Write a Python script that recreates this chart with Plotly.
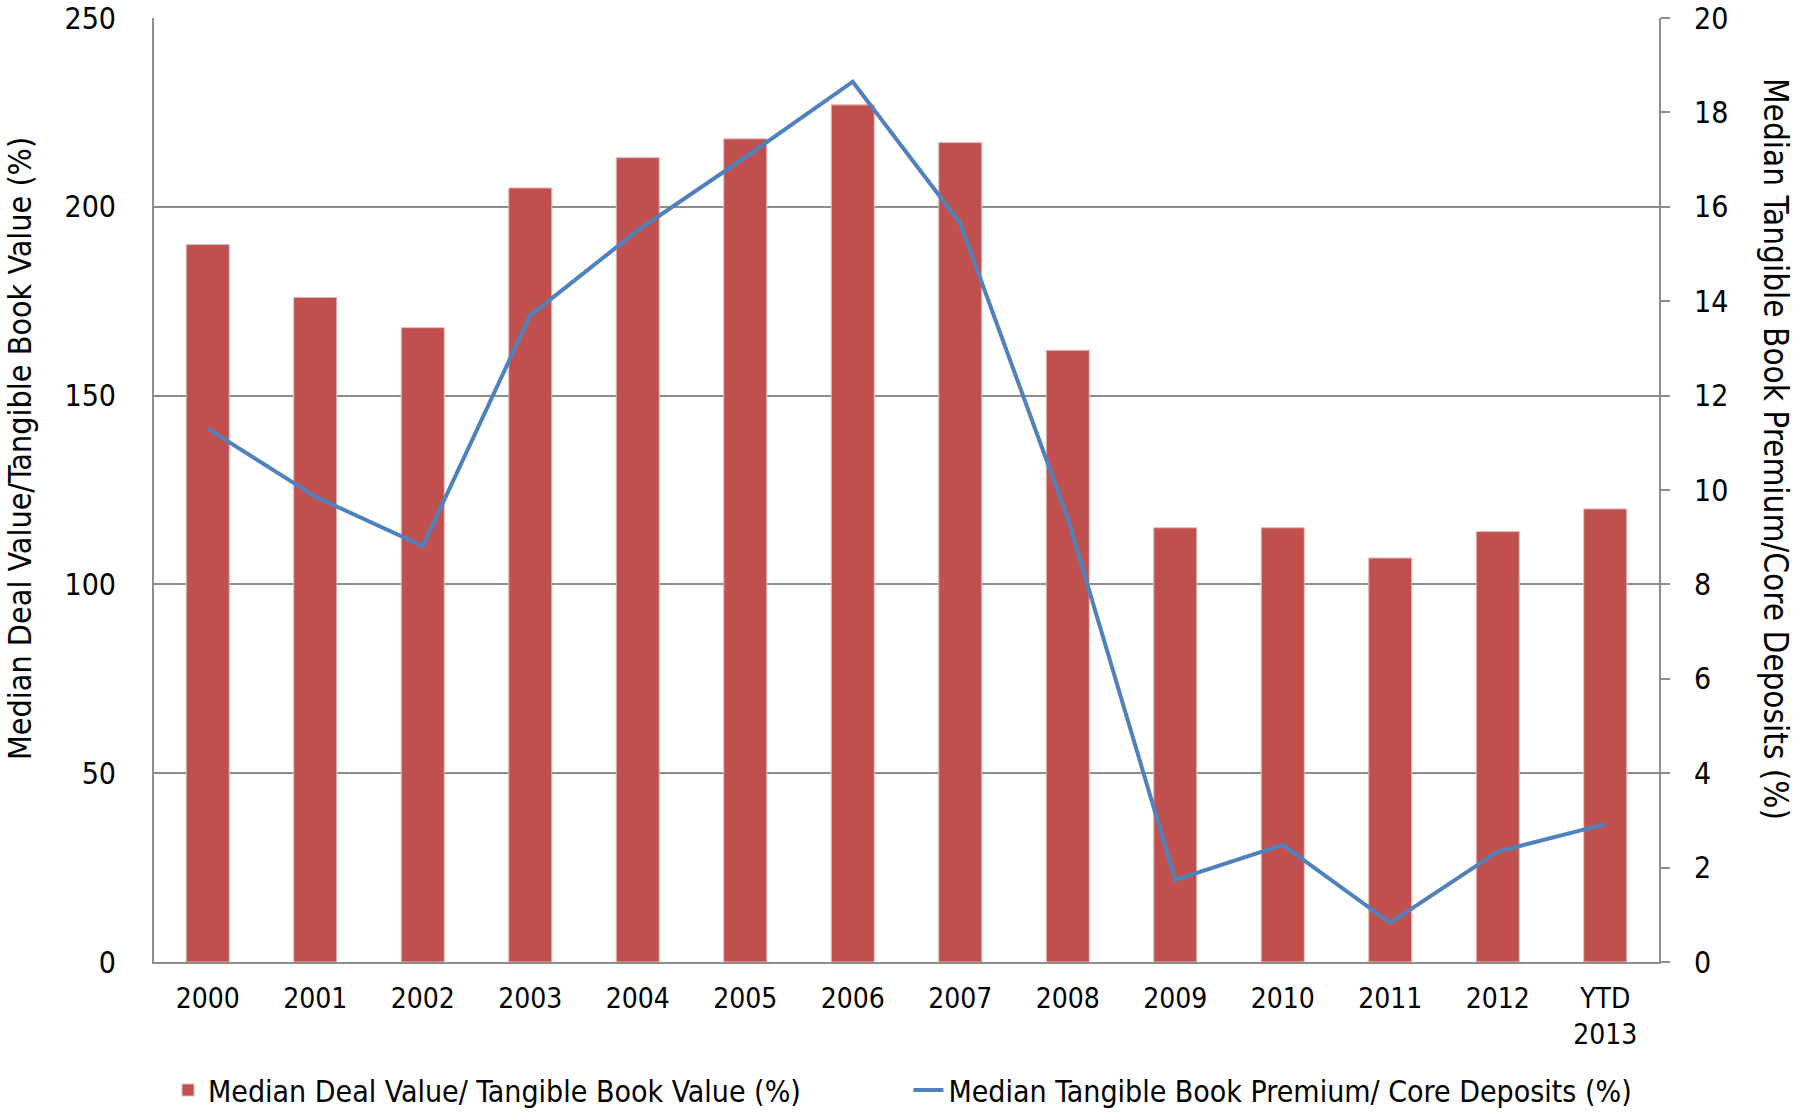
import plotly.graph_objects as go

categories = ["2000", "2001", "2002", "2003", "2004", "2005", "2006", "2007",
              "2008", "2009", "2010", "2011", "2012", "YTD<br>2013"]
deal_value_tbv = [190, 176, 168, 205, 213, 218, 227, 217, 162, 115, 115, 107, 114, 120]
tbv_premium_core = [11.3, 9.86, 8.81, 13.7, 15.5, 17.05, 18.65, 15.65, 9.4, 1.74, 2.48, 0.83, 2.34, 2.92]

bar_name = "Median Deal Value/ Tangible Book Value (%)"
line_name = "Median Tangible Book Premium/ Core Deposits (%)"
left_title = "Median Deal Value/Tangible Book Value (%)"
right_title = "Median Tangible Book Premium/Core Deposits (%)"

FONT = "Liberation Sans Narrow, Arial Narrow, DejaVu Sans Condensed, sans-serif"
GRID = "#8c8c8c"

fig = go.Figure()
fig.add_trace(go.Bar(
    x=categories, y=deal_value_tbv, name=bar_name, showlegend=True,
    marker=dict(color="#C0504D", line=dict(color="#E6B9B8", width=1)),
    legend="legend", yaxis="y",
))
fig.add_trace(go.Scatter(
    x=categories, y=tbv_premium_core, name=line_name, mode="lines", showlegend=True,
    line=dict(color="#4F81BD", width=4),
    legend="legend2", yaxis="y2",
))

fig.update_layout(
    width=1799, height=1115, showlegend=True,
    margin=dict(l=154, r=140, t=18, b=153, autoexpand=False),
    paper_bgcolor="white", plot_bgcolor="white",
    font=dict(family=FONT, size=30, color="black"),
    bargap=0.6,
    xaxis=dict(
        type="category", showgrid=False, showline=True, linecolor=GRID, linewidth=2,
        ticks="", ticklabelstandoff=10, tickfont=dict(size=28), automargin=False,
    ),
    yaxis=dict(
        range=[0, 250], dtick=50, showgrid=True, gridcolor=GRID, gridwidth=1.5,
        showline=True, linecolor=GRID, linewidth=2, ticks="", zeroline=False,
        ticklabelstandoff=30, tickfont=dict(size=30), automargin=False,
        ticklabeloverflow="allow",
    ),
    yaxis2=dict(
        range=[0, 20], dtick=2, overlaying="y", side="right", showgrid=False,
        showline=True, linecolor=GRID, linewidth=2, ticks="outside", ticklen=9,
        tickcolor=GRID, tickwidth=1.5, zeroline=False,
        ticklabelstandoff=18, tickfont=dict(size=30), automargin=False,
        ticklabeloverflow="allow",
    ),
    legend=dict(x=0.0093, y=-0.1356, xanchor="left", yanchor="middle",
                orientation="h", font=dict(size=30), bgcolor="rgba(0,0,0,0)"),
    legend2=dict(x=0.5013, y=-0.1356, xanchor="left", yanchor="middle",
                 orientation="h", font=dict(size=30), bgcolor="rgba(0,0,0,0)"),
    annotations=[
        dict(text=left_title, x=0, y=0.5, xref="paper", yref="paper", xanchor="center",
             xshift=-134, yshift=41, showarrow=False, textangle=-90, font=dict(size=32)),
        dict(text=right_title, x=1, y=0.5, xref="paper", yref="paper", xanchor="center",
             xshift=117, yshift=41, showarrow=False, textangle=90, font=dict(size=33)),
    ],
)

# remove the default 8px page margin so the figure fills the window exactly
fig.write_html("out.html", config={"displayModeBar": False},
               post_script="document.body.style.margin='0';")
